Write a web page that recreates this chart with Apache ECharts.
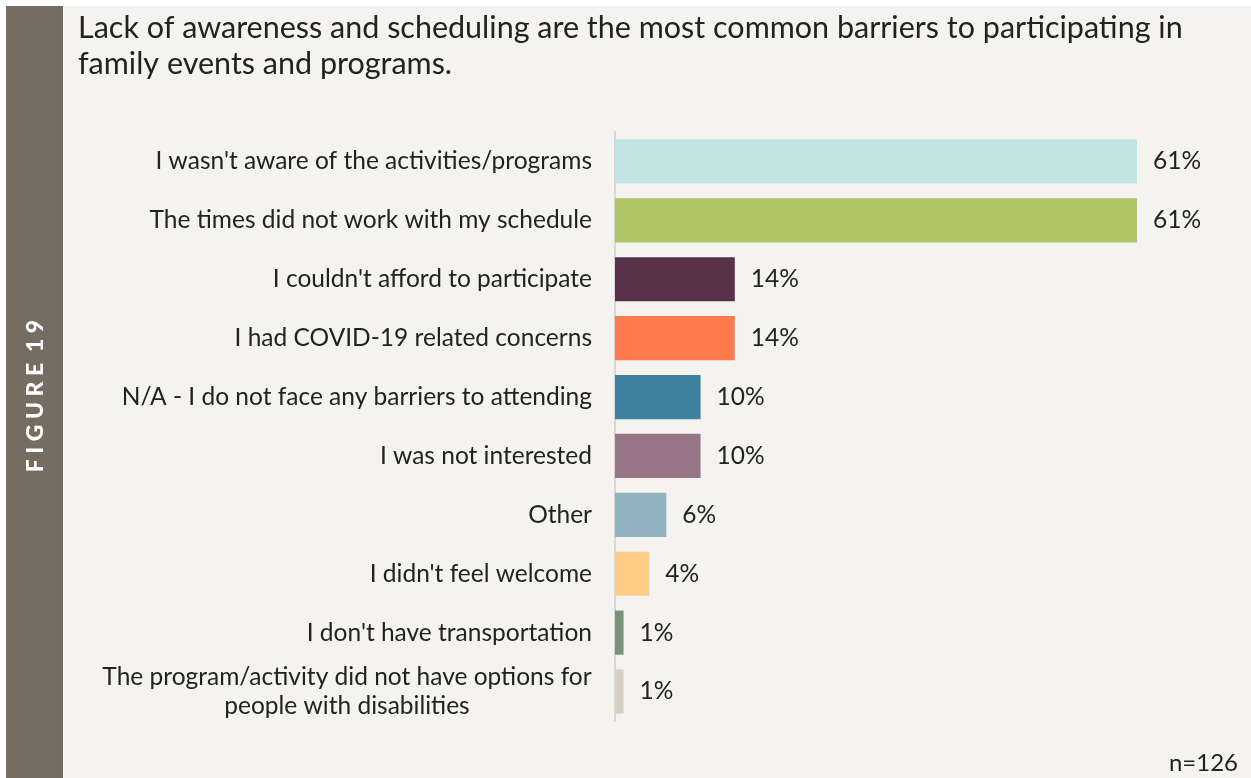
<!DOCTYPE html>
<html>
<head>
<meta charset="utf-8">
<script src="https://cdn.jsdelivr.net/npm/echarts@6/dist/echarts.min.js"></script>
<style>
  html, body { margin: 0; padding: 0; background: #ffffff; }
  #chart { width: 1251px; height: 778px; }
</style>
</head>
<body>
<div id="chart"></div>
<script>
// Survey responses: barriers to attending family events and programs (n=126)
const categories = [
  "I wasn't aware of the activities/programs",
  "The times did not work with my schedule",
  "I couldn't afford to participate",
  "I had COVID-19 related concerns",
  "N/A - I do not face any barriers to attending",
  "I was not interested",
  "Other",
  "I didn't feel welcome",
  "I don't have transportation",
  "The program/activity did not have options for\npeople with disabilities"
];
const percentages = [61, 61, 14, 14, 10, 10, 6, 4, 1, 1];
const barColors = [
  '#c2e3e4', '#aec665', '#58324a', '#ff7b4d', '#3e82a0',
  '#977688', '#91b3c2', '#ffcc85', '#76937a', '#d5cfc3'
];
const titleText = 'Lack of awareness and scheduling are the most common barriers to participating in\nfamily events and programs.';
const figureLabel = 'F I G U R E  1 9';
const sampleNote = 'n=126';

const FONT = 'Lato, "Noto Sans", sans-serif';
const LABEL_SIZE = 24.5;

// Width of the widest line of a wrapped label, so its lines can be centred on each other
function widestLine(text) {
  const ctx = document.createElement('canvas').getContext('2d');
  ctx.font = LABEL_SIZE + 'px ' + FONT;
  return Math.ceil(Math.max.apply(null, text.split('\n').map(function (l) { return ctx.measureText(l).width; })));
}

const chart = echarts.init(document.getElementById('chart'), null, { renderer: 'canvas' });

function render() {
  const wrapped = categories.filter(function (c) { return c.indexOf('\n') >= 0; });
  const blockWidth = wrapped.length ? widestLine(wrapped[0]) : 0;

  chart.setOption({
    backgroundColor: '#ffffff',
    animation: false,
    textStyle: { fontFamily: FONT },
    graphic: [
      { type: 'rect', z: -10, shape: { x: 6, y: 6, width: 1245, height: 772 }, style: { fill: '#f4f3ef' } },
      { type: 'rect', z: -9, shape: { x: 6, y: 6, width: 57, height: 772 }, style: { fill: '#756d62' } },
      {
        type: 'text', x: 36, y: 396, rotation: Math.PI / 2,
        style: {
          text: figureLabel, fill: '#ffffff', font: '900 23px ' + FONT,
          align: 'center', verticalAlign: 'middle'
        }
      },
      {
        type: 'text', x: 78, y: 10,
        style: { text: titleText, fill: '#222222', font: '30.5px ' + FONT, lineHeight: 36 }
      },
      {
        type: 'text', right: 13, top: 751,
        style: { text: sampleNote, fill: '#222222', font: '24px ' + FONT }
      }
    ],
    grid: { left: 615, right: 37, top: 132, height: 589, containLabel: false },
    xAxis: { type: 'value', min: 0, max: 70, show: false },
    yAxis: {
      type: 'category', data: categories, inverse: true,
      axisLine: { show: true, lineStyle: { color: '#d8d6d2', width: 2 } },
      axisTick: { show: false },
      axisLabel: {
        margin: 23, fontSize: LABEL_SIZE, color: '#222222', fontFamily: FONT,
        formatter: function (value) {
          if (value.indexOf('\n') >= 0) {
            return value.split('\n').map(function (line) { return '{c|' + line + '}'; }).join('\n');
          }
          return value;
        },
        rich: {
          c: { width: blockWidth, align: 'center', fontSize: LABEL_SIZE, color: '#222222', fontFamily: FONT, lineHeight: 29 }
        }
      }
    },
    series: [{
      type: 'bar',
      data: percentages.map(function (v, i) { return { value: v, itemStyle: { color: barColors[i] } }; }),
      barCategoryGap: '25%',
      label: {
        show: true, position: 'right', distance: 16,
        formatter: '{c}%', fontSize: LABEL_SIZE, color: '#222222', fontFamily: FONT
      }
    }]
  });
}

if (document.fonts && document.fonts.load) {
  document.fonts.load(LABEL_SIZE + 'px Lato').then(render, render);
} else {
  render();
}
</script>
</body>
</html>
